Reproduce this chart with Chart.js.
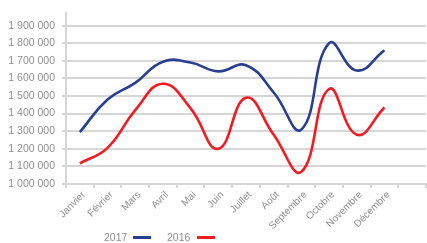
<!DOCTYPE html>
<html>
<head>
<meta charset="utf-8">
<script src="https://cdn.jsdelivr.net/npm/chart.js@4/dist/chart.umd.min.js"></script>
<style>
  html, body { margin: 0; padding: 0; background: #fff; }
  #wrap { position: relative; width: 427px; height: 243px; }
  #legend { position: absolute; left: 0; top: 230px; height: 14px; font-family: "Liberation Sans", Arial, sans-serif; font-size: 10.5px; color: #8e8e8e; }
  .item { position: absolute; top: 0; white-space: nowrap; line-height: 14px; }
  .swatch { position: absolute; top: 6px; height: 3px; width: 18px; }
</style>
</head>
<body>
<div id="wrap">
  <canvas id="c" width="427" height="243"></canvas>
  <div id="legend"></div>
</div>
<script>
const categories = ["Janvier", "Février", "Mars", "Avril", "Mai", "Juin", "Juillet", "Août", "Septembre", "Octobre", "Novembre", "Décembre", ""];
const series2017 = [1295000, 1480000, 1575000, 1695000, 1690000, 1640000, 1675000, 1520000, 1310000, 1800000, 1645000, 1760000];
const series2016 = [1117000, 1205000, 1420000, 1570000, 1430000, 1200000, 1490000, 1280000, 1070000, 1540000, 1280000, 1435000];
const yTicks = [1000000, 1100000, 1200000, 1300000, 1400000, 1500000, 1600000, 1700000, 1800000, 1900000];
const seriesNames = ["2017", "2016"];
const seriesColors = ["#283e8f", "#f41a22"];

const FONT = '"Liberation Sans", Arial, sans-serif';
const GRID = '#d6d6d6';
const TEXT = '#8e8e8e';

function fmt(v) {
  return String(v).replace(/\B(?=(\d{3})+(?!\d))/g, ' ');
}

new Chart(document.getElementById('c'), {
  type: 'line',
  data: {
    labels: categories,
    datasets: [
      { label: seriesNames[0], data: series2017, borderColor: seriesColors[0], borderWidth: 2.6, pointRadius: 0, tension: 0.45, fill: false },
      { label: seriesNames[1], data: series2016, borderColor: seriesColors[1], borderWidth: 2.6, pointRadius: 0, tension: 0.45, fill: false }
    ]
  },
  options: {
    responsive: false,
    animation: false,
    layout: { padding: { left: 0, right: 1, top: 5, bottom: 0 } },
    plugins: { legend: { display: false }, tooltip: { enabled: false } },
    scales: {
      x: {
        offset: true,
        grid: { offset: true, drawOnChartArea: false, drawTicks: true, tickLength: 4, color: GRID, lineWidth: 2 },
        border: { display: true, color: GRID, width: 2 },
        ticks: { autoSkip: false, minRotation: 45, maxRotation: 45, color: TEXT, font: { family: FONT, size: 10 }, padding: 1, labelOffset: 4 },
        afterFit: (s) => { s.height = 59; }
      },
      y: {
        min: 1000000,
        max: 1970000,
        afterBuildTicks: (s) => { s.ticks = yTicks.map(v => ({ value: v })); },
        grid: { color: GRID, lineWidth: 2, tickLength: 4, drawTicks: true },
        border: { display: true, color: GRID, width: 2 },
        ticks: { color: TEXT, font: { family: FONT, size: 10.5 }, padding: 7, callback: (v) => fmt(v) },
        afterFit: (s) => { s.width = 66; }
      }
    }
  }
});

// HTML legend: text followed by line sample
const legend = document.getElementById('legend');
const positions = [{ text: 104, sw: 133 }, { text: 167, sw: 197 }];
seriesNames.forEach((name, i) => {
  const t = document.createElement('div');
  t.className = 'item';
  t.style.left = positions[i].text + 'px';
  t.textContent = name;
  legend.appendChild(t);
  const s = document.createElement('div');
  s.className = 'swatch';
  s.style.left = positions[i].sw + 'px';
  s.style.background = seriesColors[i];
  legend.appendChild(s);
});
</script>
</body>
</html>
